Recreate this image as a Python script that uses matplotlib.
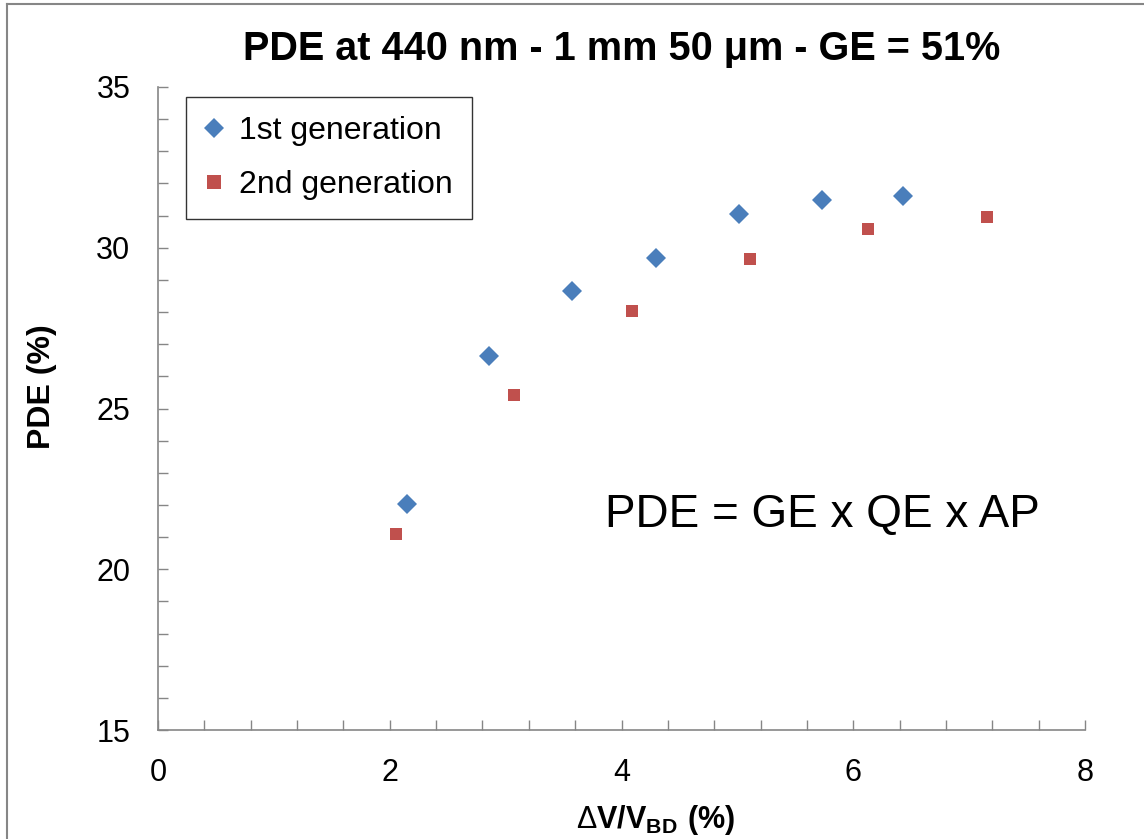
import matplotlib
matplotlib.use("Agg")
import matplotlib.pyplot as plt
from matplotlib.lines import Line2D
from matplotlib.ticker import MultipleLocator

plt.rcParams['font.family'] = ['Liberation Sans', 'DejaVu Sans']
plt.rcParams['mathtext.fontset'] = 'custom'
plt.rcParams['mathtext.rm'] = 'Liberation Sans'
plt.rcParams['mathtext.bf'] = 'Liberation Sans:bold'

# data
gen1_x = [2.15, 2.86, 3.57, 4.30, 5.01, 5.73, 6.43]
gen1_pde = [22.03, 26.64, 28.65, 29.68, 31.06, 31.50, 31.62]
gen2_x = [2.05, 3.07, 4.09, 5.11, 6.13, 7.15]
gen2_pde = [21.11, 25.42, 28.03, 29.64, 30.58, 30.96]

blue = '#4a7ebb'
red = '#c0504d'
grey = '#868686'

W, H = 1144, 839
fig = plt.figure(figsize=(W / 100, H / 100), dpi=100)
# plot area in pixels: x 158..1085, y 87..730
ax = fig.add_axes([158 / W, 1 - 730 / H, 927 / W, 643 / H])

ax.plot(gen1_x, gen1_pde, 'D', color=blue, markersize=9.7, markeredgewidth=0,
        linestyle='none', label='1st generation')
ax.plot(gen2_x, gen2_pde, 's', color=red, markersize=8.7, markeredgewidth=0,
        linestyle='none', label='2nd generation')

ax.set_xlim(0, 8)
ax.set_ylim(15, 35)
ax.xaxis.set_major_locator(MultipleLocator(2))
ax.xaxis.set_minor_locator(MultipleLocator(0.4))
ax.yaxis.set_major_locator(MultipleLocator(5))
ax.yaxis.set_minor_locator(MultipleLocator(1))

for s in ['top', 'right']:
    ax.spines[s].set_visible(False)
for s in ['left', 'bottom']:
    ax.spines[s].set_color(grey)
    ax.spines[s].set_linewidth(1.2)

ax.tick_params(which='both', direction='in', length=7, width=1, color=grey,
               labelsize=22, pad=20)

ax.set_title('PDE at 440 nm - 1 mm 50 μm - GE = 51%', fontsize=28.5,
             fontweight='bold', pad=0, y=1 + (87 - 60) / 643)
ax.set_xlabel(r'$\Delta\mathbf{V/V}_{\mathbf{BD}}\ \mathbf{(\%)}$', fontsize=22)
ax.xaxis.set_label_coords((656 - 158) / 927, (730 - 828) / 643)
ax.xaxis.label.set_va('baseline')
ax.set_ylabel('PDE (%)', fontsize=23, fontweight='bold')
ax.yaxis.set_label_coords((57 - 158) / 927, (730 - 387) / 643)

ax.text((605 - 158) / 927, (730 - 527) / 643, 'PDE = GE x QE x AP', fontsize=33,
        transform=ax.transAxes, va='baseline', ha='left')

leg = ax.legend(loc='upper left', bbox_to_anchor=((186 - 158) / 927, (730 - 97) / 643),
                borderaxespad=0, fontsize=23, frameon=True, fancybox=False,
                borderpad=0.6, handlelength=0.55, handletextpad=0.5,
                labelspacing=0.75, numpoints=1, markerscale=1.1)
leg.get_frame().set_edgecolor('black')
leg.get_frame().set_linewidth(1)

# outer frame of the picture, only top and left edges visible
fig.add_artist(Line2D([7 / W, 7 / W], [0, 1 - 4 / H], color=grey, linewidth=1.5,
                      transform=fig.transFigure))
fig.add_artist(Line2D([7 / W, 1], [1 - 4 / H, 1 - 4 / H], color=grey, linewidth=1.5,
                      transform=fig.transFigure))

fig.savefig('out.png', dpi=100)
